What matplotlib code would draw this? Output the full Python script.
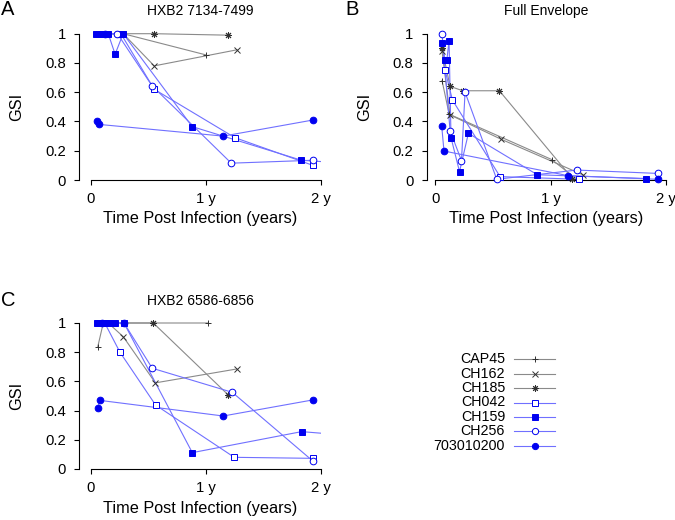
import numpy as np
import matplotlib
matplotlib.use('Agg')
import matplotlib.pyplot as plt

plt.rcParams['font.family'] = ['Liberation Sans', 'DejaVu Sans']

# series order and styles (R-like pch symbols)
names = ['CAP45', 'CH162', 'CH185', 'CH042', 'CH159', 'CH256', '703010200']
kinds = ['gray', 'gray', 'gray', 'blue', 'blue', 'blue', 'blue']
markers = ['+', 'x', (8, 2, 0), 's', 's', 'o', 'o']
filled = [True, True, True, False, True, False, True]
mark_z = [3, 3, 3, 3, 5, 4, 5]

# Panel A: HXB2 7134-7499 (time in years, GSI)
a_t = {
    'CAP45': [0.08, 0.28, 1.0],
    'CH162': [0.08, 0.28, 0.55, 1.27],
    'CH185': [0.08, 0.23, 0.55, 1.19],
    'CH042': [0.10, 0.26, 0.55, 1.25, 1.93],
    'CH159': [0.04, 0.07, 0.10, 0.15, 0.21, 0.28, 0.88, 1.83, 2.5],
    'CH256': [0.12, 0.23, 0.53, 1.22, 1.93],
    '703010200': [0.05, 0.07, 1.15, 1.93],
}
a_v = {
    'CAP45': [1, 1, 0.855],
    'CH162': [1, 1, 0.78, 0.89],
    'CH185': [1, 1, 1, 0.99],
    'CH042': [1, 1, 0.62, 0.29, 0.10],
    'CH159': [1, 1, 1, 1, 0.86, 1, 0.365, 0.135, 0.10],
    'CH256': [1, 1, 0.645, 0.115, 0.135],
    '703010200': [0.405, 0.38, 0.30, 0.41],
}

# Panel B: Full Envelope
b_t = {
    'CAP45': [0.058, 0.12, 1.01, 1.22],
    'CH162': [0.058, 0.128, 0.567, 1.28],
    'CH185': [0.058, 0.128, 0.238, 0.556, 1.19],
    'CH042': [0.085, 0.148, 0.562, 1.25],
    'CH159': [0.058, 0.085, 0.10, 0.119, 0.136, 0.21, 0.287, 0.885, 1.83],
    'CH256': [0.058, 0.128, 0.227, 0.258, 0.533, 1.227, 1.93],
    '703010200': [0.055, 0.075, 1.15, 1.93],
}
b_v = {
    'CAP45': [0.68, 0.45, 0.14, 0.01],
    'CH162': [0.88, 0.445, 0.28, 0.036],
    'CH185': [0.90, 0.64, 0.61, 0.61, 0.01],
    'CH042': [0.75, 0.547, 0.023, 0.005],
    'CH159': [0.935, 0.82, 0.82, 0.953, 0.29, 0.057, 0.319, 0.036, 0.01],
    'CH256': [1.0, 0.337, 0.132, 0.60, 0.005, 0.068, 0.045],
    '703010200': [0.371, 0.198, 0.03, 0.005],
}

# Panel C: HXB2 6586-6856
c_t = {
    'CAP45': [0.058, 0.107, 1.02],
    'CH162': [0.15, 0.281, 0.56, 1.267],
    'CH185': [0.15, 0.542, 1.194],
    'CH042': [0.08, 0.12, 0.252, 0.562, 1.246, 1.933],
    'CH159': [0.05, 0.08, 0.12, 0.16, 0.21, 0.287, 0.881, 1.832, 2.5],
    'CH256': [0.10, 0.287, 0.533, 1.229, 1.933],
    '703010200': [0.058, 0.078, 1.15, 1.928],
}
c_v = {
    'CAP45': [0.833, 1, 1],
    'CH162': [1, 0.906, 0.59, 0.685],
    'CH185': [1, 1, 0.507],
    'CH042': [1, 1, 0.80, 0.438, 0.08, 0.073],
    'CH159': [1, 1, 1, 1, 1, 1, 0.112, 0.256, 0.213],
    'CH256': [1, 1, 0.69, 0.525, 0.052],
    '703010200': [0.415, 0.47, 0.363, 0.473],
}

panels = [
    ('A', 'HXB2 7134-7499', a_t, a_v),
    ('B', 'Full Envelope', b_t, b_v),
    ('C', 'HXB2 6586-6856', c_t, c_v),
]

line_col = {'gray': '#8a8a8a', 'blue': '#7070ff'}
mark_col = {'gray': '#303030', 'blue': '#0000f0'}

W, H = 675, 520
fig = plt.figure(figsize=(W / 100, H / 100), dpi=100)


def px_axes(left, right, y0, y1, ylo=-0.04, yhi=1.04):
    # y0 = pixel row of GSI 0, y1 = pixel row of GSI 1
    per = (y0 - y1)
    top = y1 - (yhi - 1) * per
    bot = y0 + (-ylo) * per
    return fig.add_axes([left / W, 1 - bot / H, (right - left) / W, (bot - top) / H])


axes = [
    px_axes(79, 321, 180, 33.7),
    px_axes(426.7, 665.7, 180, 33.7),
    px_axes(79, 321, 469, 323),
]
xlefts = [-0.104, -0.075, -0.104]


def msize(mk):
    return 4.8 if mk in ('s', 'o') else 5


for ax, (letter, title, tt, vv), xl in zip(axes, panels, xlefts):
    for name, kind, mk, fl, z in zip(names, kinds, markers, filled, mark_z):
        ax.plot(tt[name], vv[name], color=line_col[kind], lw=0.8, zorder=2)
        ax.plot(tt[name], vv[name], ls='none', marker=mk, ms=msize(mk), mew=0.7,
                mec=mark_col[kind], mfc=mark_col[kind] if fl else 'white', zorder=z)
    ax.set_xlim(xl, 2.0)
    ax.set_ylim(-0.04, 1.04)
    for s in ['top', 'right']:
        ax.spines[s].set_visible(False)
    ax.spines['bottom'].set_position(('data', 0))
    ax.spines['bottom'].set_bounds(0, 2)
    ax.spines['left'].set_bounds(0, 1)
    for s in ['bottom', 'left']:
        ax.spines[s].set_linewidth(0.8)
    ax.set_xticks([0, 1, 2])
    ax.set_xticklabels(['0', '1 y', '2 y'])
    ax.set_yticks([0, 0.2, 0.4, 0.6, 0.8, 1])
    ax.set_yticklabels(['0', '0.2', '0.4', '0.6', '0.8', '1'])
    ax.tick_params(direction='out', length=3.6, width=0.8, labelsize=10.7)
    ax.tick_params(axis='y', pad=6)
    ax.tick_params(axis='x', pad=5)
    ax.set_xlabel('Time Post Infection (years)', fontsize=11.7, labelpad=4)
    ax.set_ylabel('GSI', fontsize=11.7, labelpad=15)
    ax.set_title(title, fontsize=10, pad=9)

fig.text(1 / W, 1 - 0 / H, 'A', fontsize=14.5, ha='left', va='top')
fig.text(345 / W, 1 - 0 / H, 'B', fontsize=14.5, ha='left', va='top')
fig.text(1 / W, 1 - 291 / H, 'C', fontsize=14.5, ha='left', va='top')

# legend drawn in pixel space
lg = fig.add_axes([0, 0, 1, 1])
lg.set_xlim(0, W)
lg.set_ylim(H, 0)
lg.axis('off')
for i, (name, kind, mk, fl) in enumerate(zip(names, kinds, markers, filled)):
    y = 359.3 + i * 14.4
    lg.plot([514, 555], [y, y], color=line_col[kind], lw=0.8)
    lg.plot([534.5], [y], marker=mk, ms=msize(mk) - 0.3, mew=0.7, mec=mark_col[kind],
            mfc=mark_col[kind] if fl else 'white')
    lg.text(505, y, name, fontsize=10.3, ha='right', va='center')

fig.savefig('out.png', dpi=100)
